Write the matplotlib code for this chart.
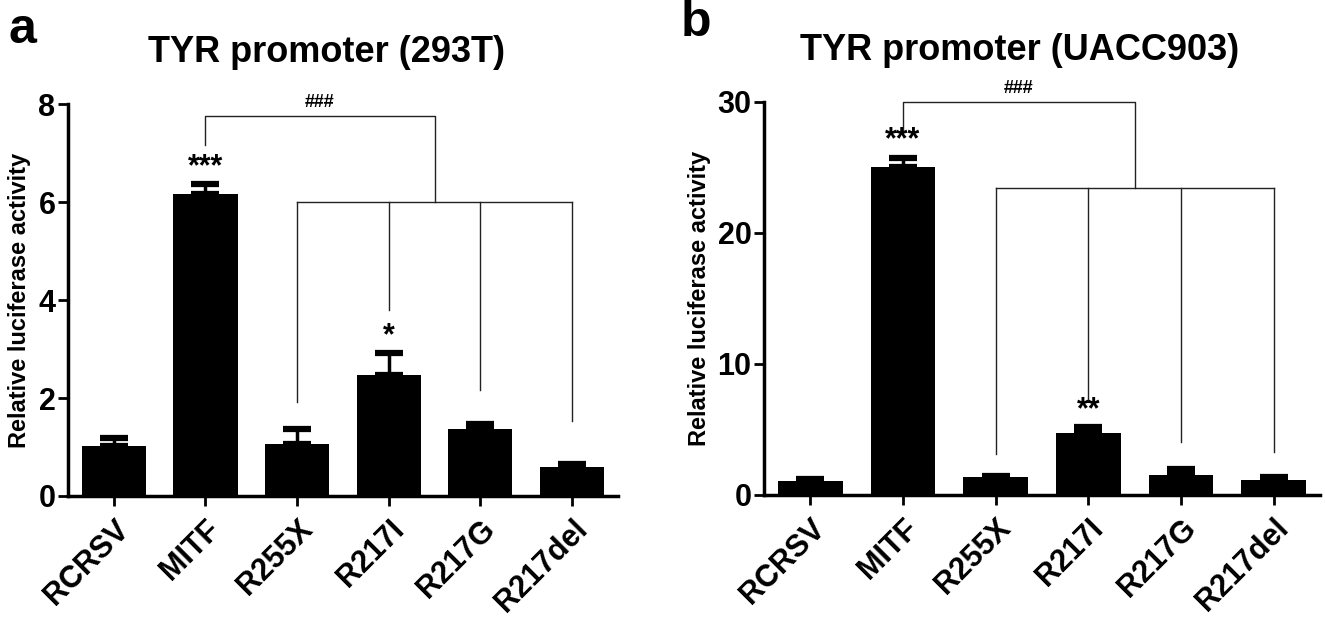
import matplotlib
matplotlib.use("Agg")
import matplotlib.pyplot as plt

# data
categories = ["RCRSV", "MITF", "R255X", "R217I", "R217G", "R217del"]

means_293t = [1.03, 6.17, 1.07, 2.47, 1.36, 0.60]
errs_293t = [0.16, 0.19, 0.30, 0.44, 0.12, 0.05]
stars_293t = ["", "***", "", "*", "", ""]

means_uacc = [1.09, 25.0, 1.35, 4.71, 1.55, 1.17]
errs_uacc = [0.13, 0.75, 0.13, 0.46, 0.44, 0.18]
stars_uacc = ["", "***", "", "**", "", ""]

# bracket levels (data units): top bar, MITF drop, lower bar, drops to each mutant
bracket_293t = dict(top=7.76, left_drop=7.16, mid=6.0, drops=[1.92, 3.79, 2.17, 1.53])
bracket_uacc = dict(top=30.0, left_drop=27.7, mid=23.4, drops=[3.13, 7.2, 4.02, 3.26])

plt.rcParams["font.family"] = ["Liberation Sans", "DejaVu Sans"]


def draw_panel(ax, means, errs, stars, bracket, ymax, yticks, title, title_x, letter, letter_xy, star_off):
    x = list(range(len(categories)))
    ax.bar(x, means, width=0.7, color="black", zorder=2)
    ax.errorbar(x, means, yerr=[[0] * len(errs), errs], fmt="none", ecolor="black",
                elinewidth=2.5, capsize=10, capthick=4.5, zorder=3)

    ax.set_xlim(-0.5, 5.5)
    ax.set_ylim(0, ymax)
    ax.set_yticks(yticks)
    ax.set_xticks(x)
    ax.set_xticklabels(categories, rotation=45, ha="right", rotation_mode="anchor",
                       fontsize=22, fontweight="bold")
    for lab in ax.get_yticklabels():
        lab.set_fontweight("bold")
        lab.set_fontsize(22)

    for side in ["top", "right"]:
        ax.spines[side].set_visible(False)
    for side in ["left", "bottom"]:
        ax.spines[side].set_linewidth(2.5)
    ax.tick_params(axis="both", direction="out", length=7, width=2, pad=2)
    ax.tick_params(axis="x", pad=6)

    ax.set_ylabel("Relative luciferase activity", fontsize=17, fontweight="bold", labelpad=5)
    ax.set_title(title, fontsize=26, fontweight="bold", pad=30, x=title_x)

    # significance stars
    for xi, m, e, s in zip(x, means, errs, stars):
        if s:
            ax.text(xi, m + e + star_off, s, ha="center", va="bottom",
                    fontsize=22, fontweight="bold")

    # brackets
    lw = 1.0
    junction = 3.5
    ax.plot([1, 1, junction, junction], [bracket["left_drop"], bracket["top"], bracket["top"], bracket["mid"]],
            color="#222222", lw=lw, clip_on=False)
    ax.plot([2, 5], [bracket["mid"], bracket["mid"]], color="#222222", lw=lw)
    for xi, d in zip([2, 3, 4, 5], bracket["drops"]):
        ax.plot([xi, xi], [bracket["mid"], d], color="#222222", lw=lw)
    ax.text((1 + junction) / 2, bracket["top"] + ymax * 0.012, "###", ha="center", va="bottom",
            fontsize=13, fontweight="bold", clip_on=False)

    ax.text(letter_xy[0], letter_xy[1], letter, transform=ax.transAxes, fontsize=36,
            fontweight="bold", ha="center", va="center")


fig = plt.figure(figsize=(13.25, 6.32), dpi=100)
ax_a = fig.add_axes([0.0513, 0.2152, 0.415, 0.620])
ax_b = fig.add_axes([0.5766, 0.2168, 0.4196, 0.622])

draw_panel(ax_a, means_293t, errs_293t, stars_293t, bracket_293t, 8, [0, 2, 4, 6, 8],
           "TYR promoter (293T)", 0.47, "a", (-0.082, 1.19), 0.05)
draw_panel(ax_b, means_uacc, errs_uacc, stars_uacc, bracket_uacc, 30, [0, 10, 20, 30],
           "TYR promoter (UACC903)", 0.46, "b", (-0.122, 1.20), 0.15)

fig.savefig("out.png", dpi=100)
